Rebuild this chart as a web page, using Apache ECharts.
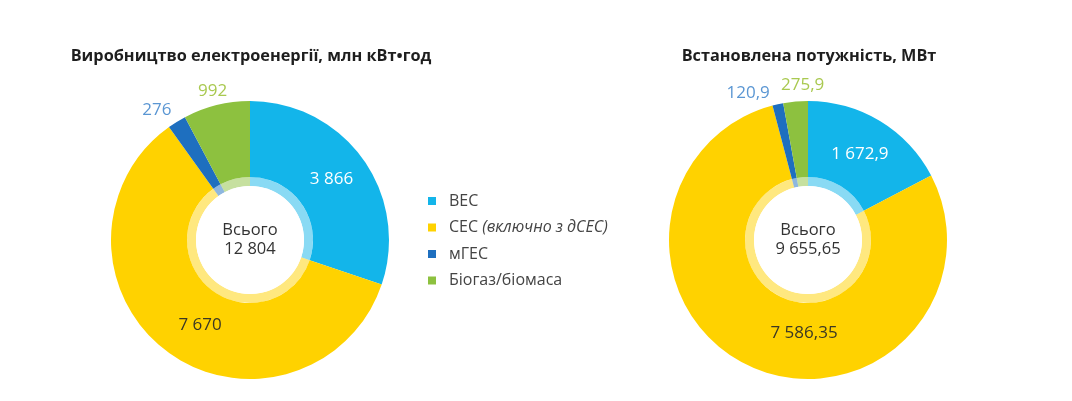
<!DOCTYPE html>
<html><head><meta charset="utf-8">
<script src="https://cdn.jsdelivr.net/npm/echarts@6/dist/echarts.min.js"></script>
<style>html,body{margin:0;padding:0;background:#fff}#c{width:1072px;height:401px}</style>
</head><body><div id="c"></div>
<script>
// ---- data ----
const categories = ['ВЕС', 'СЕС (включно з дСЕС)', 'мГЕС', 'Біогаз/біомаса'];
const production = [3866, 7670, 276, 992];
const capacity = [1672.9, 7586.35, 120.9, 275.9];
const totals = [12804, 9655.65];
const chartTitles = ['Виробництво електроенергії, млн кВт•год', 'Встановлена потужність, МВт'];
const totalWord = 'Всього';

// ---- styles ----
const FONT = '"Open Sans", "Noto Sans", sans-serif';
const colors = ['#13B5EA', '#FFD200', '#1E6FBF', '#8DC13F'];
const labelColors = ['#ffffff', '#3b3824', '#5A96D3', '#A9C950'];
const labelPos = ['inside', 'inside', 'outside', 'outside'];

function fmt(v) {
  const s = String(v);
  const parts = s.split('.');
  const int = parts[0].replace(/\B(?=(\d{3})+(?!\d))/g, ' ');
  return parts.length > 1 ? int + ',' + parts[1] : int;
}

const centers = [[250, 240], [808, 240]];
const shifts = { 0: { 0: [-3, 0], 1: [12, 2], 2: [2, 0], 3: [14, 0] }, 3: { 0: [-2, 3], 2: [-5, 3], 3: [30, -2], 1: [38, -2] } };

function mainSeries(values, ci) {
  return {
    type: 'pie', center: centers[ci], radius: [63, 139], startAngle: 90, clockwise: true,
    avoidLabelOverlap: false, silent: true,
    labelLine: { show: false, length: 14, length2: 0 },
    label: { fontFamily: FONT, fontSize: 17, distanceToLabelLine: 0, formatter: p => fmt(p.value) },
    data: values.map((v, i) => ({
      value: v, name: categories[i],
      itemStyle: { color: colors[i] },
      label: { position: labelPos[i], color: labelColors[i] }
    }))
  };
}
function ringSeries(values, ci) {
  return {
    type: 'pie', center: centers[ci], radius: [54, 63], startAngle: 90, clockwise: true,
    silent: true, label: { show: false }, labelLine: { show: false },
    data: values.map((v, i) => ({ value: v, name: categories[i], itemStyle: { color: colors[i], opacity: 0.5 } }))
  };
}
function centerSeries(total, ci) {
  return {
    type: 'pie', center: centers[ci], radius: [0, 54], silent: true,
    label: { show: true, position: 'center', fontFamily: FONT, fontSize: 16.5, lineHeight: 19, color: '#333',
      formatter: p => totalWord + '\n' + fmt(p.value) },
    labelLine: { show: false },
    data: [{ value: total, name: totalWord, itemStyle: { color: '#ffffff' } }]
  };
}

const chart = echarts.init(document.getElementById('c'));
chart.setOption({
  backgroundColor: '#ffffff',
  animation: false,
  title: chartTitles.map((t, i) => ({
    text: t, left: centers[i][0] - 4, top: 43, textAlign: 'center',
    textStyle: { fontFamily: FONT, fontSize: 16.3, fontWeight: 'bold', color: '#1e1e1e' }
  })),
  legend: {
    data: categories, orient: 'vertical', left: 428, top: 193, padding: 0,
    icon: 'rect', itemWidth: 8, itemHeight: 8, itemGap: 10.5,
    textStyle: { fontFamily: FONT, fontSize: 16, color: '#444', padding: [0, 0, 0, 8],
      rich: { i: { fontFamily: FONT, fontSize: 16, fontStyle: 'italic', color: '#444' } } },
    formatter: n => n.replace(/\((.*)\)/, '{i|($1)}'),
    selectedMode: false
  },
  series: [
    mainSeries(production, 0), ringSeries(production, 0), centerSeries(totals[0], 0),
    mainSeries(capacity, 1), ringSeries(capacity, 1), centerSeries(totals[1], 1)
  ].map((s, si) => Object.assign(s, {
    labelLayout: p => { const d = shifts[si] && shifts[si][p.dataIndex]; return d ? { dx: d[0], dy: d[1] } : {}; }
  }))
});
</script></body></html>
